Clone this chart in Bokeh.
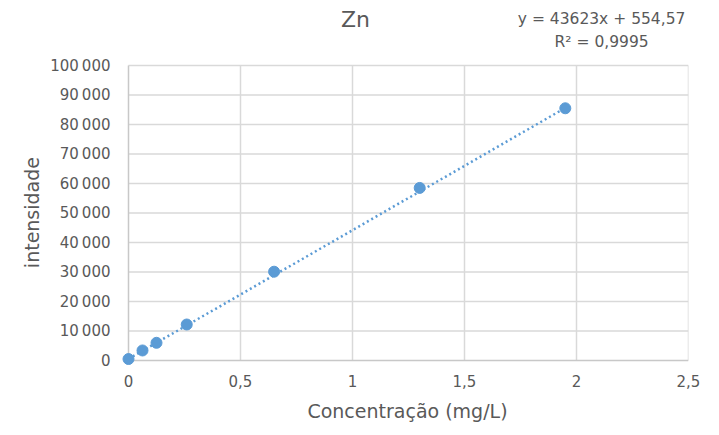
from bokeh.plotting import figure
from bokeh.models import Label, FixedTicker, Range1d
from bokeh.embed import file_html
from bokeh.resources import INLINE
import numpy as np

# data
conc = [0.0, 0.0625, 0.125, 0.26, 0.65, 1.3, 1.95]
intensidade = [500, 3400, 6000, 12200, 30100, 58500, 85500]

# trend line coefficients (from the chart's label)
slope = 43623
intercept = 554.57
r2_text = "0,9995"

x_ticks = [0, 0.5, 1, 1.5, 2, 2.5]
x_tick_labels = ["0", "0,5", "1", "1,5", "2", "2,5"]
y_ticks = [0, 10000, 20000, 30000, 40000, 50000, 60000, 70000, 80000, 90000, 100000]
y_tick_labels = ["0", "10\u2009000", "20\u2009000", "30\u2009000", "40\u2009000", "50\u2009000",
                 "60\u2009000", "70\u2009000", "80\u2009000", "90\u2009000", "100\u2009000"]

FONT = "DejaVu Sans"
TXT = "#595959"
BLUE = "#5b9bd5"
GRID = "#d9d9d9"
AXIS = "#c8c8c8"

X_MIN, X_MAX = 0, 2.5
Y_MIN, Y_MAX = 0, 100000
# small padding around the value area so the markers at the origin are not clipped,
# and the frame reaches up to the top so the title texts sit inside it
X_PAD = 8 / 560 * X_MAX
Y_PAD = 6 / 295 * Y_MAX
Y_TOP = Y_MAX * 360 / 295

p = figure(width=703, height=424, output_backend="svg", toolbar_location=None,
           x_range=Range1d(X_MIN - X_PAD, X_MAX), y_range=Range1d(Y_MIN - Y_PAD, Y_TOP),
           min_border_left=120, min_border_right=15, min_border_top=0, min_border_bottom=0)
p.title = None
p.outline_line_color = None
p.background_fill_color = "white"
p.border_fill_color = "white"

for ax in (p.xaxis[0], p.yaxis[0]):
    ax.axis_line_color = None
    ax.major_tick_line_color = None
    ax.minor_tick_line_color = None
    ax.major_tick_out = 0
    ax.major_tick_in = 0
    ax.minor_tick_out = 0
    ax.minor_tick_in = 0
    ax.major_label_text_color = TXT
    ax.major_label_text_font = FONT
    ax.major_label_text_font_size = "15px"
    ax.axis_label_text_color = TXT
    ax.axis_label_text_font = FONT
    ax.axis_label_text_font_style = "normal"
    ax.axis_label_text_font_size = "19px"

p.xaxis.ticker = FixedTicker(ticks=x_ticks)
p.xaxis.major_label_overrides = {t: l for t, l in zip(x_ticks, x_tick_labels)}
p.yaxis.ticker = FixedTicker(ticks=y_ticks)
p.yaxis.major_label_overrides = {t: l for t, l in zip(y_ticks, y_tick_labels)}
# non-breaking spaces nudge the axis titles so they are centred on the value area
p.xaxis.axis_label = "\u00a0Concentração (mg/L)"
p.xaxis.major_label_standoff = 8
p.xaxis.axis_label_standoff = 10
p.yaxis.axis_label = "intensidade" + "\u00a0" * 9 + "\u2009"
p.yaxis.major_label_standoff = 10
p.yaxis.axis_label_standoff = 4

# grid lines and axis lines, limited to the value area
p.xgrid.visible = False
p.ygrid.visible = False
ny = len(y_ticks) - 1
nx = len(x_ticks) - 1
p.segment(x0=[X_MIN] * ny, y0=y_ticks[1:], x1=[X_MAX] * ny, y1=y_ticks[1:],
          line_color=GRID, line_width=1.5)
p.segment(x0=x_ticks[1:], y0=[Y_MIN] * nx, x1=x_ticks[1:], y1=[Y_MAX] * nx,
          line_color=GRID, line_width=1.5)
p.segment(x0=[X_MIN, X_MIN], y0=[Y_MIN, Y_MIN], x1=[X_MAX, X_MIN], y1=[Y_MIN, Y_MAX],
          line_color=AXIS, line_width=1.5)

# trend line
tx = np.array([min(conc), max(conc)])
p.line(tx, slope * tx + intercept, line_color=BLUE, line_width=2.5, line_dash="2 3")

p.scatter(conc, intensidade, size=11, color=BLUE)

p.add_layout(Label(x=1.013, y=115600, text="Zn", text_font=FONT, text_font_size="22px",
                   text_color=TXT, text_align="center", text_baseline="middle"))
p.add_layout(Label(x=2.112, y=115600, text="y = 43623x + 554,57", text_font=FONT,
                   text_font_size="15.5px", text_color=TXT, text_align="center",
                   text_baseline="middle"))
p.add_layout(Label(x=2.112, y=107800, text="R\u00b2 = " + r2_text, text_font=FONT,
                   text_font_size="15.5px", text_color=TXT, text_align="center",
                   text_baseline="middle"))

open("out.html", "w").write(file_html(p, INLINE))
